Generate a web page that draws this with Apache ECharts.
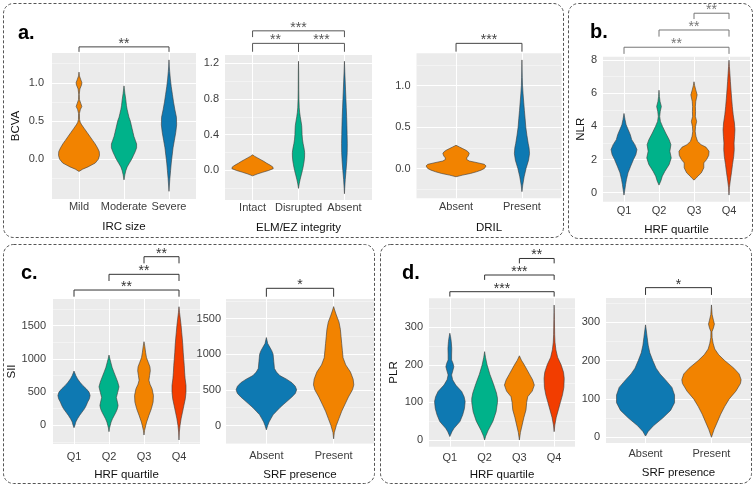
<!DOCTYPE html>
<html><head><meta charset="utf-8">
<script src="https://cdn.jsdelivr.net/npm/echarts@6/dist/echarts.min.js"></script>
<style>html,body{margin:0;padding:0;background:#fff}#c{width:755px;height:487px}</style>
</head><body><div id="c"></div>
<script>
// ---------- categories ----------
const ircCats = ['Mild', 'Moderate', 'Severe'];
const elmCats = ['Intact', 'Disrupted', 'Absent'];
const drilCats = ['Absent', 'Present'];
const hrfCats = ['Q1', 'Q2', 'Q3', 'Q4'];
const srfCats = ['Absent', 'Present'];

// ---------- tick values ----------
const bcvaTicks = [0, 0.5, 1.0];
const bcvaMinor = [-0.25, 0.25, 0.75, 1.25];
const elmTicks = [0, 0.4, 0.8, 1.2];
const elmMinor = [-0.2, 0.2, 0.6, 1.0];
const nlrTicks = [0, 2, 4, 6, 8];
const nlrMinor = [1, 3, 5, 7];
const siiTicks = [0, 500, 1000, 1500];
const siiMinor = [-250, 250, 750, 1250, 1750];
const plrTicks = [0, 100, 200, 300];
const plrMinor = [50, 150, 250, 350];

// ---------- violin profiles: [value, half-width (fraction of category spacing)] ----------
const ircMild = [[-0.16,0],[-0.13,0.08],[-0.1,0.2],[-0.05,0.36],[0,0.43],[0.05,0.455],[0.1,0.45],[0.15,0.41],[0.2,0.36],[0.25,0.3],[0.3,0.24],[0.35,0.18],[0.4,0.12],[0.45,0.06],[0.48,0.03],[0.52,0.012],[0.6,0.01],[0.65,0.03],[0.69,0.063],[0.73,0.04],[0.78,0.01],[0.85,0.006],[0.92,0.02],[0.97,0.055],[1.0,0.065],[1.04,0.04],[1.09,0.01],[1.14,0]];
const ircModerate = [[-0.27,0],[-0.2,0.02],[-0.15,0.04],[-0.1,0.07],[-0.05,0.12],[0,0.17],[0.05,0.21],[0.1,0.25],[0.15,0.28],[0.2,0.28],[0.25,0.25],[0.3,0.22],[0.35,0.2],[0.4,0.18],[0.45,0.16],[0.5,0.14],[0.55,0.11],[0.6,0.09],[0.65,0.07],[0.7,0.055],[0.78,0.04],[0.86,0.02],[0.92,0.008],[0.96,0]];
const ircSevere = [[-0.42,0],[-0.35,0.008],[-0.25,0.02],[-0.15,0.035],[-0.05,0.05],[0.05,0.07],[0.15,0.09],[0.25,0.12],[0.35,0.15],[0.45,0.17],[0.55,0.165],[0.65,0.13],[0.75,0.1],[0.85,0.075],[0.95,0.05],[1.05,0.03],[1.15,0.015],[1.22,0.006],[1.3,0]];

const elmIntact = [[-0.06,0],[-0.04,0.1],[-0.02,0.22],[0,0.35],[0.02,0.45],[0.04,0.44],[0.06,0.38],[0.08,0.31],[0.1,0.25],[0.12,0.18],[0.14,0.11],[0.16,0.04],[0.175,0]];
const elmDisrupted = [[-0.2,0],[-0.15,0.015],[-0.1,0.036],[-0.05,0.06],[0,0.085],[0.05,0.105],[0.1,0.122],[0.15,0.132],[0.2,0.134],[0.25,0.12],[0.3,0.1],[0.35,0.086],[0.4,0.078],[0.45,0.075],[0.5,0.07],[0.55,0.055],[0.6,0.038],[0.65,0.025],[0.7,0.016],[0.8,0.009],[0.9,0.006],[1.0,0.005],[1.1,0.004],[1.22,0]];
const elmAbsent = [[-0.26,0],[-0.2,0.006],[-0.1,0.018],[0,0.035],[0.1,0.05],[0.2,0.06],[0.3,0.062],[0.4,0.058],[0.5,0.054],[0.6,0.048],[0.7,0.04],[0.8,0.032],[0.9,0.024],[1.0,0.016],[1.1,0.008],[1.22,0]];

const drilAbsent = [[-0.1,0],[-0.08,0.1],[-0.06,0.22],[-0.04,0.31],[-0.02,0.38],[0,0.43],[0.03,0.455],[0.05,0.43],[0.07,0.32],[0.09,0.2],[0.11,0.16],[0.13,0.165],[0.15,0.185],[0.18,0.2],[0.2,0.185],[0.22,0.15],[0.24,0.1],[0.26,0.05],[0.28,0]];
const drilPresent = [[-0.28,0],[-0.2,0.012],[-0.1,0.033],[0,0.062],[0.1,0.1],[0.18,0.115],[0.25,0.108],[0.3,0.095],[0.4,0.075],[0.5,0.058],[0.6,0.048],[0.7,0.037],[0.8,0.027],[0.9,0.017],[1.0,0.009],[1.1,0.005],[1.2,0.002],[1.31,0]];

const nlrQ1 = [[-0.14,0],[0.2,0.025],[0.5,0.045],[0.8,0.07],[1.2,0.115],[1.6,0.19],[2.0,0.27],[2.3,0.34],[2.6,0.37],[2.9,0.31],[3.2,0.22],[3.5,0.18],[3.8,0.12],[4.1,0.06],[4.4,0.03],[4.78,0]];
const nlrQ2 = [[0.46,0],[0.7,0.05],[1.0,0.095],[1.3,0.17],[1.7,0.29],[2.1,0.35],[2.5,0.31],[2.9,0.34],[3.2,0.29],[3.6,0.19],[4.0,0.1],[4.3,0.04],[4.6,0.02],[4.9,0.035],[5.2,0.067],[5.5,0.03],[5.8,0.012],[6.18,0]];
const nlrQ3 = [[0.76,0],[0.9,0.07],[1.0,0.11],[1.2,0.21],[1.5,0.28],[1.8,0.28],[2.0,0.36],[2.25,0.42],[2.5,0.43],[2.75,0.34],[2.9,0.2],[3.1,0.1],[3.4,0.055],[3.7,0.035],[4.0,0.045],[4.3,0.075],[4.6,0.04],[4.9,0.045],[5.2,0.04],[5.5,0.05],[5.9,0.09],[6.2,0.05],[6.45,0.02],[6.69,0]];
const nlrQ4 = [[-0.14,0],[0.3,0.012],[0.7,0.035],[1.2,0.07],[1.7,0.1],[2.2,0.135],[2.6,0.15],[3.0,0.145],[3.4,0.16],[3.8,0.17],[4.2,0.155],[4.7,0.12],[5.2,0.095],[5.7,0.075],[6.2,0.057],[6.7,0.04],[7.2,0.025],[7.6,0.012],[7.99,0]];

const siiQ1 = [[-35,0],[0,0.025],[50,0.05],[100,0.1],[150,0.16],[200,0.23],[250,0.3],[300,0.35],[350,0.39],[400,0.44],[450,0.46],[500,0.43],[550,0.35],[600,0.25],[650,0.17],[700,0.1],[750,0.05],[817,0]];
const siiQ2 = [[-95,0],[-40,0.015],[0,0.035],[50,0.06],[100,0.1],[150,0.15],[200,0.2],[250,0.24],[300,0.26],[350,0.24],[420,0.21],[500,0.25],[580,0.286],[650,0.25],[720,0.2],[800,0.14],[870,0.09],[950,0.05],[1000,0.025],[1057,0]];
const siiQ3 = [[-145,0],[-80,0.015],[0,0.05],[50,0.075],[150,0.14],[250,0.21],[350,0.26],[450,0.27],[550,0.23],[620,0.17],[680,0.14],[750,0.16],[820,0.18],[880,0.17],[950,0.12],[1020,0.07],[1100,0.045],[1180,0.025],[1258,0]];
const siiQ4 = [[-220,0],[-100,0.01],[0,0.03],[100,0.06],[200,0.1],[300,0.14],[400,0.18],[500,0.2],[600,0.2],[700,0.175],[800,0.16],[900,0.15],[1000,0.135],[1100,0.12],[1200,0.11],[1300,0.095],[1400,0.077],[1500,0.06],[1600,0.038],[1700,0.015],[1784,0]];

const siiSrfAbsent = [[-61,0],[0,0.02],[50,0.04],[100,0.07],[150,0.1],[200,0.15],[250,0.2],[300,0.26],[350,0.32],[400,0.38],[450,0.43],[500,0.45],[550,0.43],[600,0.38],[650,0.3],[700,0.2],[750,0.15],[800,0.12],[900,0.11],[1000,0.1],[1050,0.08],[1100,0.05],[1150,0.02],[1234,0]];
const siiSrfPresent = [[-187,0],[-100,0.01],[0,0.04],[100,0.08],[200,0.12],[300,0.17],[400,0.22],[500,0.28],[570,0.3],[650,0.29],[750,0.25],[850,0.18],[950,0.14],[1050,0.13],[1150,0.12],[1250,0.11],[1350,0.1],[1450,0.08],[1550,0.04],[1620,0.015],[1668,0]];

const plrQ1 = [[9,0],[22,0.06],[31,0.12],[49,0.29],[67,0.37],[84,0.42],[102,0.44],[115,0.41],[129,0.34],[146,0.17],[160,0.08],[173,0.05],[186,0.09],[195,0.115],[204,0.09],[213,0.05],[226,0.05],[244,0.055],[262,0.04],[275,0.02],[284,0]];
const plrQ2 = [[0,0],[10,0.03],[25,0.1],[50,0.24],[75,0.33],[100,0.37],[111,0.37],[125,0.34],[150,0.25],[175,0.15],[200,0.07],[220,0.025],[235,0]];
const plrQ3 = [[0,0],[20,0.03],[40,0.08],[60,0.13],[80,0.19],[100,0.21],[115,0.24],[130,0.37],[146,0.43],[160,0.38],[175,0.29],[200,0.14],[212,0.06],[224,0]];
const plrQ4 = [[22,0],[40,0.02],[60,0.06],[80,0.12],[100,0.18],[120,0.24],[140,0.28],[164,0.29],[180,0.27],[200,0.2],[220,0.1],[240,0.05],[260,0.025],[280,0.015],[300,0.012],[320,0.008],[340,0.004],[359,0]];

const plrSrfAbsent = [[3,0],[15,0.04],[30,0.12],[50,0.26],[70,0.38],[90,0.44],[110,0.44],[130,0.4],[150,0.3],[165,0.22],[180,0.16],[200,0.11],[220,0.065],[240,0.04],[260,0.025],[280,0.01],[293,0]];
const plrSrfPresent = [[0,0],[20,0.04],[40,0.09],[60,0.14],[80,0.2],[100,0.27],[120,0.37],[140,0.44],[150,0.45],[165,0.42],[180,0.34],[200,0.2],[215,0.11],[230,0.05],[245,0.025],[260,0.01],[275,0.008],[285,0.03],[295,0.045],[305,0.03],[320,0.01],[345,0]];

// ---------- significance brackets: [cat from, cat to, y, tip length, label] ----------
const ircSig = [[0,2,1.47,0.065,'**']];
const elmSig = [[0,2,1.56,0.07,'***'],[0,1,1.42,0.094,'**'],[1,2,1.42,0.094,'***']];
const drilSig = [[0,1,1.51,0.1,'***']];
const nlrSig = [[0,3,8.77,0.4,'**'],[1,3,9.81,0.4,'**'],[2,3,10.82,0.35,'**']];
const siiSig = [[0,3,2035,100,'**'],[1,3,2271,100,'**'],[2,3,2536,100,'**']];
const siiSrfSig = [[0,1,1925,118,'*']];
const plrSig = [[0,3,394.6,13,'***'],[1,3,439,13,'***'],[2,3,483,13,'**']];
const plrSrfSig = [[0,1,390,19,'*']];

// ---------- styling ----------
const FONT = '"Liberation Sans", Arial, Helvetica, sans-serif';
const BLUE = '#0E79B2', TEAL = '#00B28A', ORANGE = '#F28300', RED = '#F23D00';

const panels = [
  {box:[52,53,144,146], cats:ircCats, prof:[ircMild,ircModerate,ircSevere], col:[ORANGE,TEAL,BLUE], yr:[-0.52,1.39], major:bcvaTicks, minor:bcvaMinor, dec:1, xName:'IRC size', xGap:22, xm:2, ym:8, yName:'BCVA', yGap:30, sig:ircSig, sc:'#444'},
  {box:[225,55,147,145], cats:elmCats, prof:[elmIntact,elmDisrupted,elmAbsent], col:[ORANGE,TEAL,BLUE], yr:[-0.33,1.29], major:elmTicks, minor:elmMinor, dec:1, xName:'ELM/EZ integrity', xGap:22, xm:2, ym:6, sig:elmSig, sc:'#555'},
  {box:[416.5,53.3,145,145], cats:drilCats, prof:[drilAbsent,drilPresent], col:[ORANGE,BLUE], yr:[-0.36,1.39], major:bcvaTicks, minor:bcvaMinor, dec:1, xName:'DRIL', xGap:24, xm:3.5, ym:6, sig:drilSig, sc:'#444'},
  {box:[603,56.7,147,145], cats:hrfCats, prof:[nlrQ1,nlrQ2,nlrQ3,nlrQ4], col:[BLUE,TEAL,ORANGE,RED], yr:[-0.54,8.2], major:nlrTicks, minor:nlrMinor, dec:0, xName:'HRF quartile', xGap:22, xm:4, ym:6, yName:'NLR', yGap:15, sig:nlrSig, sc:'#777'},
  {box:[53,299,147,145], cats:hrfCats, prof:[siiQ1,siiQ2,siiQ3,siiQ4], col:[BLUE,TEAL,ORANGE,RED], yr:[-280,1900], major:siiTicks, minor:siiMinor, dec:0, xName:'HRF quartile', xGap:25, xm:7, ym:7, yName:'SII', yGap:32, sig:siiSig, sc:'#333'},
  {box:[226,299,148,145], cats:srfCats, prof:[siiSrfAbsent,siiSrfPresent], col:[BLUE,ORANGE], yr:[-260,1775], major:siiTicks, minor:siiMinor, dec:0, xName:'SRF presence', xGap:25, xm:6, ym:5, sig:siiSrfSig, sc:'#333'},
  {box:[429,298.3,146,148.4], cats:hrfCats, prof:[plrQ1,plrQ2,plrQ3,plrQ4], col:[BLUE,TEAL,ORANGE,RED], yr:[-18,377], major:plrTicks, minor:plrMinor, dec:0, xName:'HRF quartile', xGap:22, xm:5.5, ym:6, yName:'PLR', yGap:29, sig:plrSig, sc:'#333'},
  {box:[606,298,145,145], cats:srfCats, prof:[plrSrfAbsent,plrSrfPresent], col:[BLUE,ORANGE], yr:[-15,363], major:plrTicks, minor:plrMinor, dec:0, xName:'SRF presence', xGap:24, xm:5, ym:6, sig:plrSrfSig, sc:'#333'}
];

const option = {
  animation: false,
  backgroundColor: '#fff',
  grid: [], xAxis: [], yAxis: [], series: [],
  graphic: [
    {type:'rect', shape:{x:3.5,y:3.5,width:560,height:234,r:10}, style:{fill:null,stroke:'#555',lineWidth:1,lineDash:[3,2]}, z:-1},
    {type:'rect', shape:{x:568.5,y:3.5,width:184,height:235,r:10}, style:{fill:null,stroke:'#555',lineWidth:1,lineDash:[3,2]}, z:-1},
    {type:'rect', shape:{x:3.5,y:244.5,width:371,height:239,r:10}, style:{fill:null,stroke:'#555',lineWidth:1,lineDash:[3,2]}, z:-1},
    {type:'rect', shape:{x:380.5,y:244.5,width:371,height:239,r:10}, style:{fill:null,stroke:'#555',lineWidth:1,lineDash:[3,2]}, z:-1},
    {type:'text', x:18, y:33, style:{text:'a.', font:'bold 20px ' + FONT, fill:'#000', verticalAlign:'middle'}},
    {type:'text', x:590, y:32, style:{text:'b.', font:'bold 20px ' + FONT, fill:'#000', verticalAlign:'middle'}},
    {type:'text', x:21, y:273, style:{text:'c.', font:'bold 20px ' + FONT, fill:'#000', verticalAlign:'middle'}},
    {type:'text', x:402, y:273, style:{text:'d.', font:'bold 20px ' + FONT, fill:'#000', verticalAlign:'middle'}}
  ]
};

const labelStyle = {fontSize: 11, color: '#3d3d3d', fontFamily: FONT};
const titleStyle = {fontSize: 11.5, color: '#111', fontFamily: FONT};

panels.forEach((p, i) => {
  const n = p.cats.length;
  const idx = p.cats.map((c, k) => k);
  option.grid.push({left:p.box[0], top:p.box[1], width:p.box[2], height:p.box[3], show:true, backgroundColor:'#EBEBEB', borderWidth:0});
  option.xAxis.push({
    type:'value', gridIndex:i, min:-0.6, max:n - 0.4,
    axisLine:{show:false}, axisTick:{show:false, customValues:idx},
    axisLabel:Object.assign({customValues:idx, formatter:v => p.cats[Math.round(v)], margin:p.xm}, labelStyle),
    splitLine:{show:true, lineStyle:{color:'#fff', width:1}},
    name:p.xName, nameLocation:'middle', nameGap:p.xGap, nameTextStyle:titleStyle
  });
  option.yAxis.push({
    type:'value', gridIndex:i, min:p.yr[0], max:p.yr[1],
    axisLine:{show:false}, axisTick:{show:false, customValues:p.major},
    axisLabel:Object.assign({customValues:p.major, formatter:v => Number(v).toFixed(p.dec), margin:p.ym}, labelStyle),
    splitLine:{show:true, lineStyle:{color:'#fff', width:1}},
    name:p.yName || '', nameLocation:'middle', nameGap:p.yGap || 0, nameTextStyle:titleStyle
  });
  option.yAxis.push({
    type:'value', gridIndex:i, min:p.yr[0], max:p.yr[1], position:'left',
    axisLine:{show:false}, axisTick:{show:false, customValues:p.minor},
    axisLabel:{show:false},
    splitLine:{show:true, lineStyle:{color:'#F7F7F7', width:0.7}}
  });
  option.series.push({
    type:'custom', xAxisIndex:i, yAxisIndex:2 * i, clip:false, silent:true, z:3,
    data:idx.map(k => [k, 0]),
    renderItem:(params, api) => {
      const k = api.value(0);
      const pr = p.prof[k];
      const right = pr.map(d => api.coord([k + d[1], d[0]]));
      const left = pr.slice(1, -1).reverse().map(d => api.coord([k - d[1], d[0]]));
      return {type:'polygon', shape:{points:right.concat(left)},
        style:{fill:p.col[k], stroke:'#3a3a3a', lineWidth:0.6, lineJoin:'round'}};
    }
  });
  option.series.push({
    type:'custom', xAxisIndex:i, yAxisIndex:2 * i, clip:false, silent:true, z:4,
    data:p.sig.map(s => [s[0], s[2]]),
    renderItem:(params, api) => {
      const s = p.sig[params.dataIndex];
      const a = api.coord([s[0], s[2] - s[3]]);
      const b = api.coord([s[0], s[2]]);
      const c = api.coord([s[1], s[2]]);
      const d = api.coord([s[1], s[2] - s[3]]);
      return {type:'group', children:[
        {type:'polyline', shape:{points:[a, b, c, d]}, style:{stroke:p.sc, lineWidth:1, fill:null}},
        {type:'text', x:(b[0] + c[0]) / 2, y:b[1] - 3, style:{text:s[4], fill:p.sc, font:'14px ' + FONT, align:'center', verticalAlign:'middle'}}
      ]};
    }
  });
});

const chart = echarts.init(document.getElementById('c'), null, {renderer:'canvas'});
chart.setOption(option);
</script></body></html>
